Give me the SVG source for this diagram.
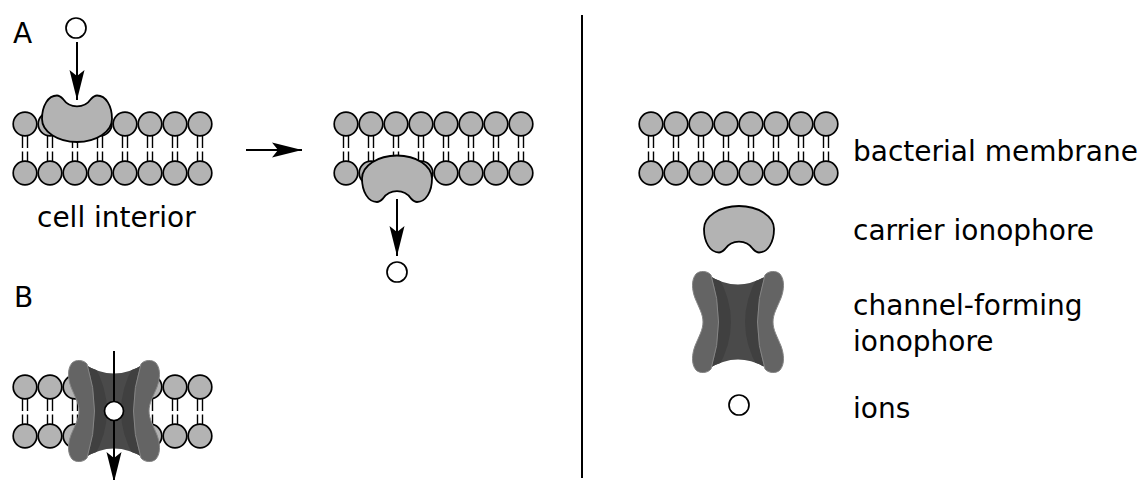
<svg xmlns="http://www.w3.org/2000/svg" xmlns:xlink="http://www.w3.org/1999/xlink" width="1138" height="480" viewBox="0 0 1138 480">
  <style>
    .head { fill: #b3b3b3; stroke: #000; stroke-width: 1.7; }
    .tail { fill: none; stroke: #000; stroke-width: 1.4; }
    .carrier { fill: #b3b3b3; stroke: #000; stroke-width: 1.8; }
    .ion { fill: #fff; stroke: #000; stroke-width: 1.7; }
    .arrow { fill: none; stroke: #000; stroke-width: 2; marker-end: url(#head); }
    .label { font-family: "DejaVu Sans", "Liberation Sans", sans-serif; font-size: 28px; fill: #000; }
    .lobe { fill: #646464; stroke: #858585; stroke-width: 1; }
    .core { fill: #4a4a4a; }
    .band { fill: #404040; }
  </style>
  <defs>
    <!-- one phospholipid pair: upper head, lower head, double tails with a mid-bilayer gap -->
    <g id="lipid">
      <path class="tail" d="M-2.5,12 V24 M2.5,12 V24 M-2.5,27.5 V37 M2.5,27.5 V37"/>
      <circle class="head" cx="0" cy="0" r="11.8"/>
      <circle class="head" cx="0" cy="49" r="11.8"/>
    </g>
    <!-- eight lipids side by side -->
    <g id="bilayer">
      <use xlink:href="#lipid" x="0"/>
      <use xlink:href="#lipid" x="25"/>
      <use xlink:href="#lipid" x="50"/>
      <use xlink:href="#lipid" x="75"/>
      <use xlink:href="#lipid" x="100"/>
      <use xlink:href="#lipid" x="125"/>
      <use xlink:href="#lipid" x="150"/>
      <use xlink:href="#lipid" x="175"/>
    </g>
    <!-- carrier: bean shape with a binding notch on top -->
    <path id="carrier" class="carrier" d="M-14,-20 A17 17 0 0 0 14,-20 C17,-23 18,-23.5 20,-23.5 C29,-23.5 35,-13 35,0 C35,12.7 19.3,23 0,23 C-19.3,23 -35,12.7 -35,0 C-35,-13 -29,-23.5 -20,-23.5 C-18,-23.5 -17,-23 -14,-20 Z"/>
    <!-- channel: dark core with two curved side lobes -->
    <clipPath id="core-clip">
      <path d="M-30,-47 Q0,-28 30,-47 L30,47 Q0,28 -30,47 Z"/>
    </clipPath>
    <g id="channel">
      <path class="core" d="M-30,-47 Q0,-28 30,-47 L30,47 Q0,28 -30,47 Z"/>
      <g clip-path="url(#core-clip)">
        <path class="band" d="M-27,-47 Q-12,0 -27,47 L-20,46 Q6,0 -20,-46 Z"/>
        <path class="band" d="M27,-47 Q12,0 27,47 L20,46 Q-6,0 20,-46 Z"/>
      </g>
      <path class="lobe" d="M-27,-47 Q-12,0 -27,47 C-30,51 -38,52 -42,48 C-47,42 -46,32 -43,24 C-39,14 -35,8 -35,0 C-35,-8 -39,-14 -43,-24 C-46,-32 -47,-42 -42,-48 C-38,-52 -30,-51 -27,-47 Z"/>
      <path class="lobe" d="M27,-47 Q12,0 27,47 C30,51 38,52 42,48 C47,42 46,32 43,24 C39,14 35,8 35,0 C35,-8 39,-14 43,-24 C46,-32 47,-42 42,-48 C38,-52 30,-51 27,-47 Z"/>
    </g>
    <marker id="head" markerUnits="userSpaceOnUse" markerWidth="34" markerHeight="20" viewBox="-32 -10 34 20" refX="0" refY="0" orient="auto">
      <path d="M0,0 L-30,-7.5 L-24,0 L-30,7.5 Z" fill="#000"/>
    </marker>
  </defs>

  <!-- panel A: ion binding at the outer leaflet -->
  <g id="membrane-a" transform="translate(25,124)"><use xlink:href="#bilayer"/></g>
  <g id="carrier-a" transform="translate(77,119)"><use xlink:href="#carrier"/></g>
  <g id="ion-a"><circle class="ion" cx="76" cy="28" r="10"/></g>

  <!-- panel A, after translocation: ion released inside -->
  <g id="membrane-a2" transform="translate(346,124)"><use xlink:href="#bilayer"/></g>
  <g id="carrier-a2" transform="translate(397,178.5) rotate(180)"><use xlink:href="#carrier"/></g>
  <g id="ion-a2"><circle class="ion" cx="397" cy="272" r="10"/></g>

  <!-- panel B: channel spanning the bilayer -->
  <g id="membrane-b" transform="translate(25,387)"><use xlink:href="#bilayer"/></g>
  <g id="channel-b" transform="translate(114,411)"><use xlink:href="#channel"/></g>

  <!-- legend -->
  <g id="legend-membrane" transform="translate(651,124)"><use xlink:href="#bilayer"/></g>
  <g id="legend-carrier" transform="translate(739,229) rotate(180)"><use xlink:href="#carrier"/></g>
  <g id="legend-channel" transform="translate(738,322)"><use xlink:href="#channel"/></g>
  <g id="legend-ion"><circle class="ion" cx="739" cy="405" r="10"/></g>

  <!-- connectors -->
  <g id="connectors">
    <line class="arrow" x1="77" y1="42" x2="77" y2="100"/>
    <line class="arrow" x1="246" y1="150" x2="302" y2="150"/>
    <line class="arrow" x1="397" y1="199" x2="397" y2="256"/>
    <line class="arrow" x1="114" y1="351" x2="114" y2="482"/>
  </g>
  <g id="ion-b"><circle class="ion" cx="114" cy="411" r="9.5" stroke-width="2"/></g>

  <!-- divider between scheme and legend -->
  <line x1="582" y1="15" x2="582" y2="478" stroke="#000" stroke-width="2"/>

  <!-- labels -->
  <g id="labels" class="label">
    <text class="label" x="13" y="43">A</text>
    <text class="label" x="14" y="307">B</text>
    <text class="label" x="37" y="227" font-size="27">cell interior</text>
    <text class="label" x="853" y="161">bacterial membrane</text>
    <text class="label" x="853" y="240">carrier ionophore</text>
    <text class="label" x="853" y="315">channel-forming</text>
    <text class="label" x="853" y="351">ionophore</text>
    <text class="label" x="853" y="418">ions</text>
  </g>
</svg>
